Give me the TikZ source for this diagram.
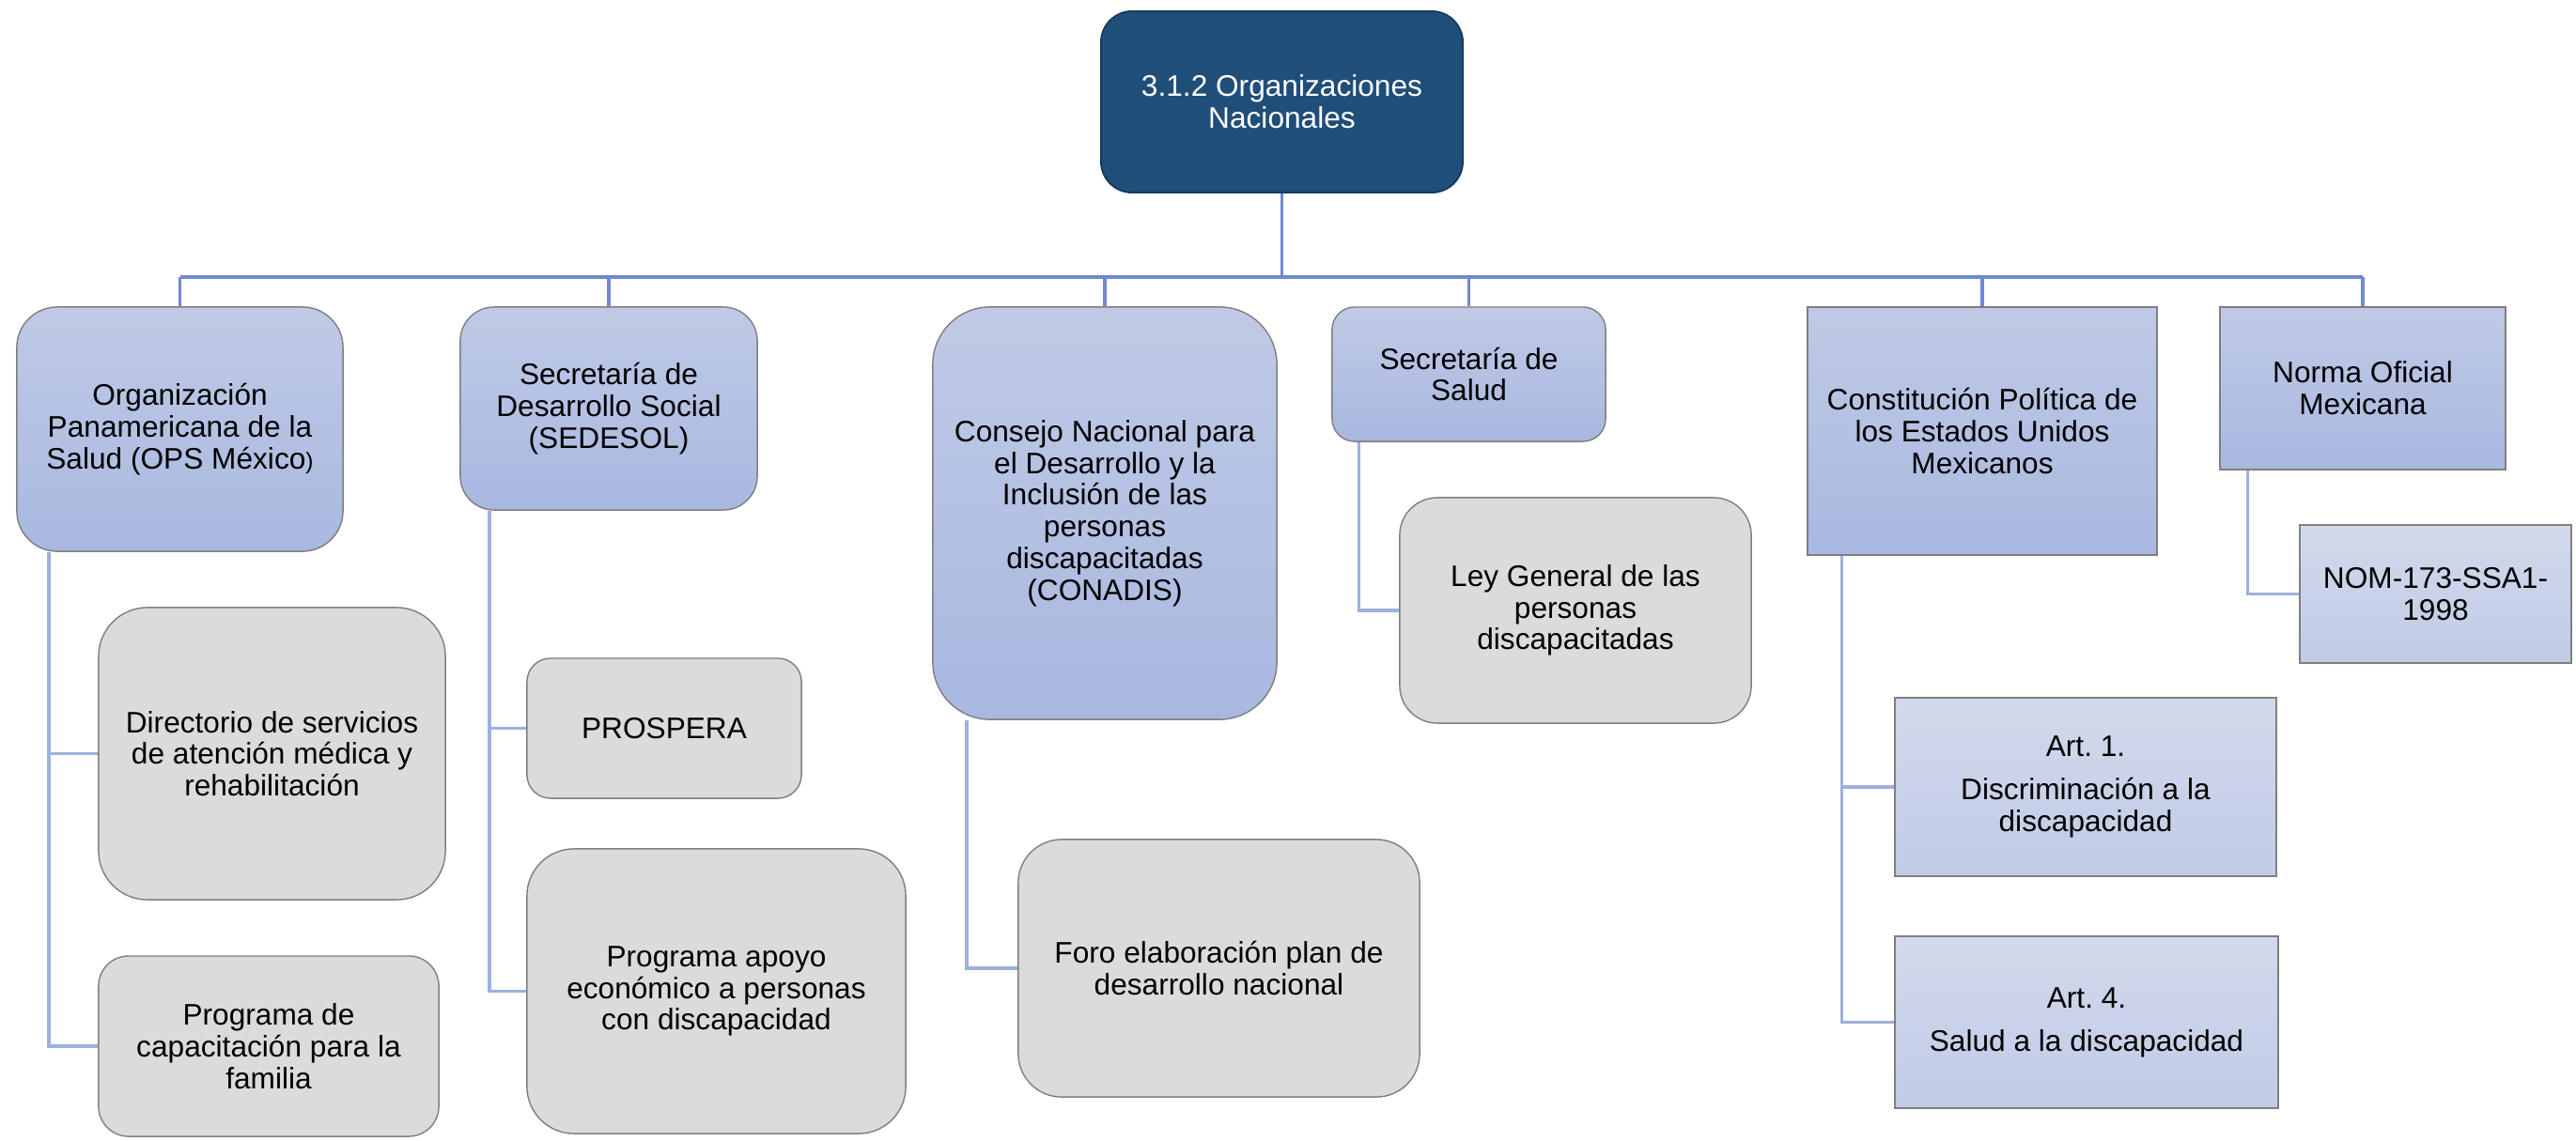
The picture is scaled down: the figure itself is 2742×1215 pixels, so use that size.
\documentclass[tikz,border=0pt]{standalone}
\usepackage{fontspec}
\setmainfont{Liberation Sans}
\usepackage{tikz}
\usetikzlibrary{calc}

\definecolor{rootblue}{HTML}{1F4E79}
\definecolor{rootedge}{HTML}{17395A}
\definecolor{orgtop}{HTML}{C0CAE6}
\definecolor{orgbot}{HTML}{A8B8E0}
\definecolor{arttop}{HTML}{D2D9EB}
\definecolor{artbot}{HTML}{C0CBE6}
\definecolor{actfill}{HTML}{DBDBDB}
\definecolor{edgegray}{HTML}{7F7F7F}
\definecolor{busblue}{HTML}{7189D0}
\definecolor{subblue}{HTML}{9DB0DE}

\begin{document}
\begin{tikzpicture}[x=0.01cm, y=-0.01cm, every node/.style={align=center, font={\fontsize{9}{9.6}\selectfont}}, root/.style={draw=rootedge, fill=rootblue, text=white, line width=0.5pt}, org/.style={draw=edgegray, top color=orgtop, bottom color=orgbot, line width=0.4pt}, act/.style={draw=edgegray, fill=actfill, line width=0.4pt}, art/.style={draw=edgegray, top color=arttop, bottom color=artbot, line width=0.4pt}, busline/.style={draw=busblue, line width=0.9pt}, subline/.style={draw=subblue, line width=0.9pt}]
                \useasboundingbox (0,0) rectangle (2742,1215);
                % nodes
                \node[root, rounded corners=0.33cm, minimum width=3.85cm, minimum height=1.93cm] (root) at (1364.5,108.5) {3.1.2 Organizaciones\\Nacionales};
                \node[org, rounded corners=0.43cm, minimum width=3.47cm, minimum height=2.6cm] (ops) at (191.5,457) {Organización\\Panamericana de la\\Salud (OPS México{\fontsize{7}{7}\selectfont )}};
                \node[org, rounded corners=0.36cm, minimum width=3.16cm, minimum height=2.16cm] (sedesol) at (648,435) {Secretaría de\\Desarrollo Social\\(SEDESOL)};
                \node[org, rounded corners=0.61cm, minimum width=3.66cm, minimum height=4.39cm] (conadis) at (1176,546.5) {Consejo Nacional para\\el Desarrollo y la\\Inclusión de las\\personas\\discapacitadas\\(CONADIS)};
                \node[org, rounded corners=0.24cm, minimum width=2.91cm, minimum height=1.43cm] (salud) at (1563.5,398.5) {Secretaría de\\Salud};
                \node[org, minimum width=3.72cm, minimum height=2.64cm] (const) at (2110,459) {Constitución Política de\\los Estados Unidos\\Mexicanos};
                \node[org, minimum width=3.04cm, minimum height=1.73cm] (norma) at (2515,413.5) {Norma Oficial\\Mexicana};
                \node[act, rounded corners=0.52cm, minimum width=3.69cm, minimum height=3.11cm] (dir) at (289.5,802.5) {Directorio de servicios\\de atención médica y\\rehabilitación};
                \node[act, rounded corners=0.32cm, minimum width=3.62cm, minimum height=1.92cm] (cap) at (286,1114) {Programa de\\capacitación para la\\familia};
                \node[act, rounded corners=0.25cm, minimum width=2.92cm, minimum height=1.49cm] (prospera) at (707,775.5) {PROSPERA};
                \node[act, rounded corners=0.5cm, minimum width=4.03cm, minimum height=3.03cm] (apoyo) at (762.5,1055.5) {Programa apoyo\\económico a personas\\con discapacidad};
                \node[act, rounded corners=0.46cm, minimum width=4.27cm, minimum height=2.74cm] (foro) at (1297.5,1031) {Foro elaboración plan de\\desarrollo nacional};
                \node[act, rounded corners=0.4cm, minimum width=3.74cm, minimum height=2.4cm] (ley) at (1677,650) {Ley General de las\\personas\\discapacitadas};
                \node[art, minimum width=4.06cm, minimum height=1.9cm] (art1) at (2220,838) {Art.\ 1.\\[3.5pt]Discriminación a la\\discapacidad};
                \node[art, minimum width=4.08cm, minimum height=1.83cm] (art4) at (2221,1088.5) {Art.\ 4.\\[3.5pt]Salud a la discapacidad};
                \node[art, minimum width=2.89cm, minimum height=1.47cm] (nom) at (2592.5,632.5) {NOM-173-SSA1-\\1998};
                % edges
                \coordinate (bus) at (0,295);
                \draw[busline] (root.south) -- (root |- bus);
                \draw[busline] (ops |- bus) -- (norma |- bus);
                \foreach \org in {ops, sedesol, conadis, salud, const, norma}
                    \draw[busline] (\org.north) -- (\org |- bus);
                \draw[subline] ($(ops.south west)!0.1!(ops.south east)$) |- (dir.west);
                \draw[subline] ($(ops.south west)!0.1!(ops.south east)$) |- (cap.west);
                \draw[subline] ($(sedesol.south west)!0.1!(sedesol.south east)$) |- (prospera.west);
                \draw[subline] ($(sedesol.south west)!0.1!(sedesol.south east)$) |- (apoyo.west);
                \draw[subline] ($(conadis.south west)!0.1!(conadis.south east)$) |- (foro.west);
                \draw[subline] ($(salud.south west)!0.1!(salud.south east)$) |- (ley.west);
                \draw[subline] ($(const.south west)!0.1!(const.south east)$) |- (art1.west);
                \draw[subline] ($(const.south west)!0.1!(const.south east)$) |- (art4.west);
                \draw[subline] ($(norma.south west)!0.1!(norma.south east)$) |- (nom.west);
            \end{tikzpicture}
\end{document}
